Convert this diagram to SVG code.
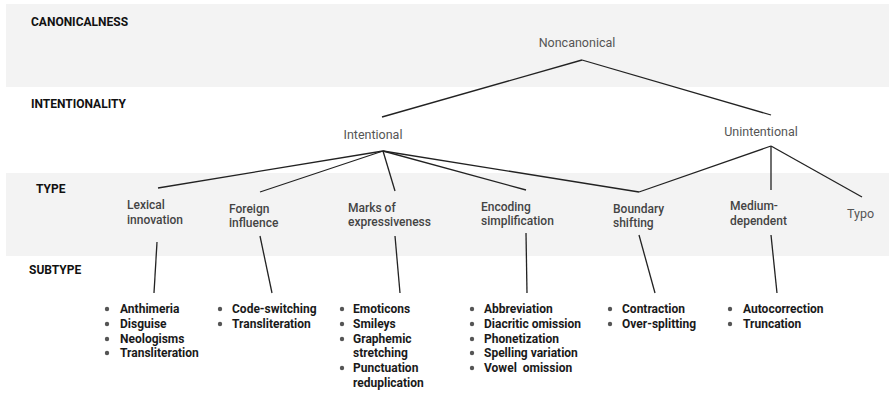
<svg xmlns="http://www.w3.org/2000/svg" width="889" height="393" viewBox="0 0 889 393">
<style>
.band{fill:#f3f3f3}
.hdr{font-family:Roboto,"Liberation Sans",sans-serif;font-size:12px;font-weight:bold;fill:#111}
.lvl{font-family:Roboto,"Liberation Sans",sans-serif;font-size:12.5px;fill:#555}
.typ{font-family:Roboto,"Liberation Sans",sans-serif;font-size:12px;font-weight:500;fill:#444}
.typr{font-family:Roboto,"Liberation Sans",sans-serif;font-size:12.5px;fill:#555}
.sub{font-family:Roboto,"Liberation Sans",sans-serif;font-size:12px;font-weight:bold;fill:#1a1a1a}
.dot{fill:#555}
.edge{stroke:#222;stroke-width:1.3;fill:none}
</style>
<rect width="889" height="393" fill="#fff"/>
<rect class="band" x="6" y="4" width="883" height="83"/>
<rect class="band" x="6" y="173" width="883" height="83"/>
<g id="headers">
<text class="hdr" x="31" y="26">CANONICALNESS</text>
<text class="hdr" x="31" y="108">INTENTIONALITY</text>
<text class="hdr" x="36" y="193">TYPE</text>
<text class="hdr" x="29" y="274">SUBTYPE</text>
</g>
<g id="connectors">
<line class="edge" x1="582" y1="60" x2="382" y2="117"/>
<line class="edge" x1="582" y1="60" x2="771" y2="115"/>
<line class="edge" x1="383" y1="151" x2="158" y2="188"/>
<line class="edge" x1="383" y1="151" x2="260" y2="192"/>
<line class="edge" x1="383" y1="151" x2="395" y2="191"/>
<line class="edge" x1="383" y1="151" x2="526" y2="190"/>
<line class="edge" x1="383" y1="151" x2="639" y2="192"/>
<line class="edge" x1="771" y1="146" x2="639" y2="192"/>
<line class="edge" x1="771" y1="146" x2="771" y2="190"/>
<line class="edge" x1="771" y1="146" x2="862" y2="197"/>
<line class="edge" x1="157" y1="242" x2="154" y2="293"/>
<line class="edge" x1="260" y1="236" x2="272" y2="293"/>
<line class="edge" x1="395" y1="236" x2="400" y2="293"/>
<line class="edge" x1="526" y1="233" x2="527" y2="293"/>
<line class="edge" x1="639" y1="235" x2="655" y2="293"/>
<line class="edge" x1="771" y1="235" x2="777" y2="293"/>
</g>
<g id="noncanonical"><text class="lvl" x="577" y="47" text-anchor="middle">Noncanonical</text></g>
<g id="intentional"><text class="lvl" x="373" y="139" text-anchor="middle">Intentional</text></g>
<g id="unintentional"><text class="lvl" x="761" y="136" text-anchor="middle">Unintentional</text></g>
<g id="lexical"><text class="typ" x="127" y="209">Lexical</text><text class="typ" x="127" y="224">innovation</text></g>
<g id="foreign"><text class="typ" x="229" y="213">Foreign</text><text class="typ" x="229" y="227">influence</text></g>
<g id="marks"><text class="typ" x="348" y="212">Marks of</text><text class="typ" x="348" y="226">expressiveness</text></g>
<g id="encoding"><text class="typ" x="481" y="211">Encoding</text><text class="typ" x="481" y="225">simplification</text></g>
<g id="boundary"><text class="typ" x="613" y="213">Boundary</text><text class="typ" x="613" y="227">shifting</text></g>
<g id="medium"><text class="typ" x="730" y="210">Medium-</text><text class="typ" x="730" y="225">dependent</text></g>
<g id="typo"><text class="typr" x="847" y="218">Typo</text></g>
<g id="lexical-sub">
<circle class="dot" cx="107" cy="309" r="2.2"/><text class="sub" x="120" y="313">Anthimeria</text>
<circle class="dot" cx="107" cy="324" r="2.2"/><text class="sub" x="120" y="328">Disguise</text>
<circle class="dot" cx="107" cy="339" r="2.2"/><text class="sub" x="120" y="343">Neologisms</text>
<circle class="dot" cx="107" cy="353" r="2.2"/><text class="sub" x="120" y="357">Transliteration</text>
</g>
<g id="foreign-sub">
<circle class="dot" cx="220" cy="309" r="2.2"/><text class="sub" x="232" y="313">Code-switching</text>
<circle class="dot" cx="220" cy="324" r="2.2"/><text class="sub" x="232" y="328">Transliteration</text>
</g>
<g id="marks-sub">
<circle class="dot" cx="342" cy="309" r="2.2"/><text class="sub" x="353" y="313">Emoticons</text>
<circle class="dot" cx="342" cy="324" r="2.2"/><text class="sub" x="353" y="328">Smileys</text>
<circle class="dot" cx="342" cy="339" r="2.2"/><text class="sub" x="353" y="343">Graphemic</text>
<text class="sub" x="353" y="357">stretching</text>
<circle class="dot" cx="342" cy="368" r="2.2"/><text class="sub" x="353" y="372">Punctuation</text>
<text class="sub" x="353" y="387">reduplication</text>
</g>
<g id="encoding-sub">
<circle class="dot" cx="472" cy="309" r="2.2"/><text class="sub" x="484" y="313">Abbreviation</text>
<circle class="dot" cx="472" cy="324" r="2.2"/><text class="sub" x="484" y="328">Diacritic omission</text>
<circle class="dot" cx="472" cy="339" r="2.2"/><text class="sub" x="484" y="343">Phonetization</text>
<circle class="dot" cx="472" cy="353" r="2.2"/><text class="sub" x="484" y="357">Spelling variation</text>
<circle class="dot" cx="472" cy="368" r="2.2"/><text class="sub" x="484" y="372" xml:space="preserve">Vowel  omission</text>
</g>
<g id="boundary-sub">
<circle class="dot" cx="610" cy="309" r="2.2"/><text class="sub" x="622" y="313">Contraction</text>
<circle class="dot" cx="610" cy="324" r="2.2"/><text class="sub" x="622" y="328">Over-splitting</text>
</g>
<g id="medium-sub">
<circle class="dot" cx="730" cy="309" r="2.2"/><text class="sub" x="743" y="313">Autocorrection</text>
<circle class="dot" cx="730" cy="324" r="2.2"/><text class="sub" x="743" y="328">Truncation</text>
</g>
</svg>
